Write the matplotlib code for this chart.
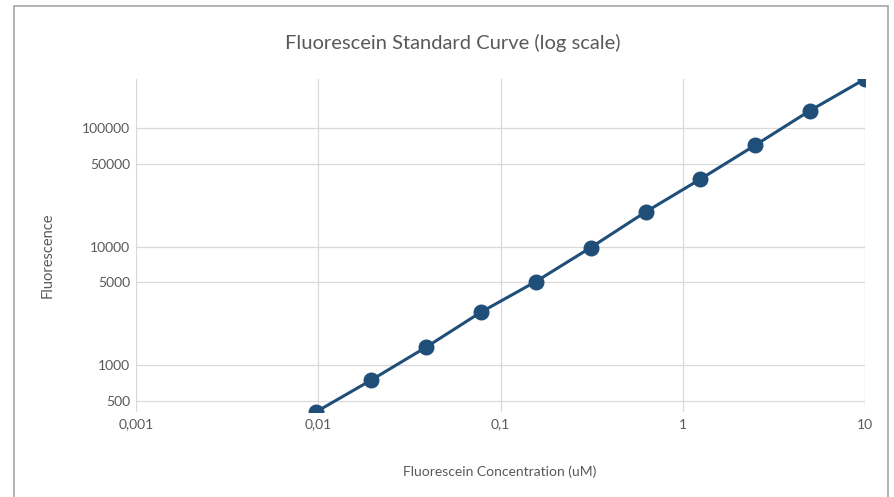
import matplotlib
matplotlib.use("Agg")
import matplotlib.pyplot as plt
from matplotlib.patches import Rectangle
from matplotlib.ticker import FixedLocator, FixedFormatter, NullLocator

# Data
concentration_uM = [0.009765625, 0.01953125, 0.0390625, 0.078125, 0.15625, 0.3125,
                    0.625, 1.25, 2.5, 5, 10]
fluorescence = [406, 750, 1420, 2800, 5070, 9800, 19550, 37000, 71500, 140000, 258000]

x_ticks = [0.001, 0.01, 0.1, 1, 10]
x_tick_labels = ["0,001", "0,01", "0,1", "1", "10"]
y_ticks = [500, 1000, 5000, 10000, 50000, 100000]
y_tick_labels = ["500", "1000", "5000", "10000", "50000", "100000"]

title = "Fluorescein Standard Curve (log scale)"
x_label = "Fluorescein Concentration (uM)"
y_label = "Fluorescence"

plt.rcParams['font.family'] = ['Lato', 'DejaVu Sans']
text_color = "#595959"
grid_color = "#d9d9d9"
line_color = "#1f4e79"

fig = plt.figure(figsize=(8.94, 4.97), dpi=100)
W, H = 894, 497
ax = fig.add_axes([136 / W, 1 - 411.7 / H, (865 - 136) / W, (411.7 - 79) / H])

ax.plot(concentration_uM, fluorescence, color=line_color, linewidth=2.2,
        marker="o", markersize=10.5, markerfacecolor=line_color,
        markeredgecolor=line_color, zorder=3)

ax.set_xscale("log")
ax.set_yscale("log")
ax.set_xlim(0.001, 10)
ax.set_ylim(min(fluorescence), max(fluorescence))

ax.xaxis.set_major_locator(FixedLocator(x_ticks))
ax.xaxis.set_major_formatter(FixedFormatter(x_tick_labels))
ax.xaxis.set_minor_locator(NullLocator())
ax.yaxis.set_major_locator(FixedLocator(y_ticks))
ax.yaxis.set_major_formatter(FixedFormatter(y_tick_labels))
ax.yaxis.set_minor_locator(NullLocator())

ax.tick_params(axis="both", length=0, labelsize=10, labelcolor=text_color)
ax.tick_params(axis="x", pad=5)
ax.tick_params(axis="y", pad=4)

for s in ax.spines.values():
    s.set_visible(False)
ax.grid(True, which="major", color=grid_color, linewidth=0.9)
ax.set_axisbelow(True)

ax.set_xlabel(x_label, fontsize=10, color=text_color)
ax.xaxis.set_label_coords(0.499, -0.163)
ax.set_ylabel(y_label, fontsize=10.5, color=text_color)
ax.yaxis.set_label_coords(-0.111, 0.47)

fig.text(453 / W, 1 - 43 / H, title, ha="center", va="center",
         fontsize=14.5, color=text_color)

# chart border
fig.patches.append(Rectangle((14.5 / W, -0.05), (888 - 14.5) / W, 1.05 - 6 / H,
                             transform=fig.transFigure, fill=False,
                             edgecolor="#a6a6a6", linewidth=1.2))

fig.savefig("out.png", dpi=100)
